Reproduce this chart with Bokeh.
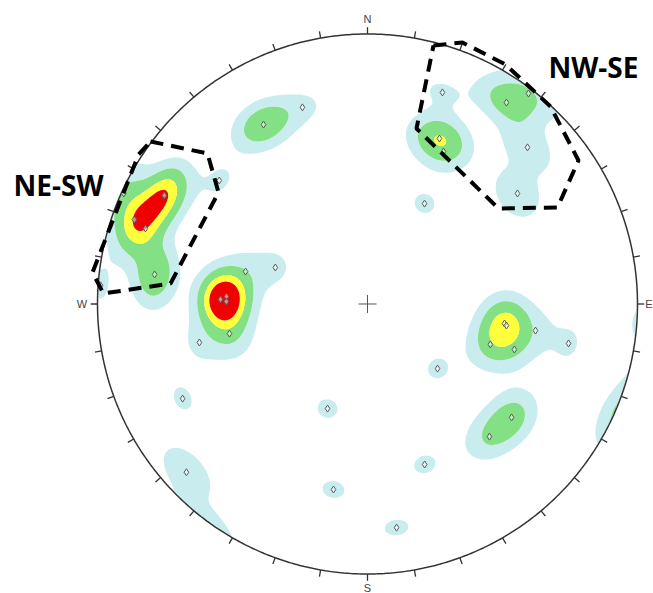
import numpy as np
from bokeh.plotting import figure
from bokeh.models import Range1d
from bokeh.embed import file_html
from bokeh.resources import INLINE
from bokeh.core.properties import value

# ---- data: poles (trend / plunge in degrees, lower hemisphere) and counts ----
trend = [298.1, 289.9, 288.8, 277.9, 309.8, 274.0, 294.4,
         284.9, 291.6, 271.8, 273.0, 271.0, 257.9, 257.1,
         19.5, 23.5, 26.5, 34.6, 45.6, 53.6, 29.6, 37.4,
         329.9, 341.7,
         98.1, 98.8, 99.0, 108.2, 107.2, 101.1, 128.2, 137.4,
         242.9, 200.9, 132.7, 160.4, 190.4, 172.6, 227.1]
plunge = [15.8, 9.0, 14.2, 21.5, 29.3, 1.0, 1.0,
          51.4, 59.9, 44.7, 46.6, 46.6, 46.6, 36.3,
          18.0, 33.6, 37.0, 10.3, 18.2, 31.6, 54.8, 2.1,
          24.2, 24.3,
          47.5, 46.8, 37.1, 50.4, 42.5, 25.1, 32.6, 33.7,
          24.1, 55.9, 61.1, 37.0, 30.8, 17.6, 9.3]
count = [6, 4, 3, 4, 1, 1, 2,
         1, 1, 4, 3, 3, 2, 1,
         1, 4, 1, 3, 2, 2, 1, 2,
         4, 1,
         3, 2, 1, 2, 1, 1, 3, 2,
         1, 1, 1, 1, 1, 1, 2]

contour_levels = [0.85, 2.3, 4.5, 6.5, 1000]
contour_colors = ["#c9ecee", "#84e084", "#ffff3c", "#f00000"]

set_names = ["NE-SW", "NW-SE"]
set_label_pos = [(-1.3111, 0.4389), (0.6704, 0.8796)]
# hand-drawn selection windows (net coordinates, unit radius)
set_window_x = [[-0.8037, -0.5926, -0.5519, -0.7296, -0.9778, -1.0185, -0.8481],
                [0.2444, 0.3519, 0.5111, 0.6778, 0.7815, 0.7037, 0.4852, 0.1815]]
set_window_y = [[0.6019, 0.5574, 0.4130, 0.0759, 0.0389, 0.1167, 0.5537],
                [0.9574, 0.9685, 0.8870, 0.7315, 0.5315, 0.3574, 0.3537, 0.6500]]

compass = ["N", "E", "S", "W"]

# ---- projection (Schmidt equal-area, lower hemisphere) ----
tr = np.radians(trend)
pl = np.radians(plunge)
w = np.array(count, dtype=float)
r_pts = np.sqrt(2) * np.sin((np.pi / 2 - pl) / 2)
mx = r_pts * np.sin(tr)
my = r_pts * np.cos(tr)

# ---- density on the sphere (Fisher kernel, axial) ----
g = np.linspace(-1.03, 1.03, 413)
GX, GY = np.meshgrid(g, g)
RR = np.hypot(GX, GY)
R = np.clip(RR, 0, 1.0)
th = 2 * np.arcsin(R / np.sqrt(2))
az = np.arctan2(GX, GY)
vx = np.sin(th) * np.sin(az)
vy = np.sin(th) * np.cos(az)
vz = -np.cos(th)
px = np.cos(pl) * np.sin(tr)
py = np.cos(pl) * np.cos(tr)
pz = -np.sin(pl)
dot = np.abs(vx[..., None] * px + vy[..., None] * py + vz[..., None] * pz)
kappa = 1.0 / np.radians(5.0) ** 2
Z = (w * np.exp(kappa * (dot - 1.0))).sum(axis=-1)
Z = np.where(RR > 1.0, 0.0, Z)

p = figure(width=653, height=593, x_range=Range1d(-1.35926, 1.05926),
           y_range=Range1d(-1.07222, 1.12407), output_backend="svg",
           toolbar_location=None, min_border=0, x_axis_type=None, y_axis_type=None)
p.outline_line_color = None
p.background_fill_color = "white"

p.contour(x=g, y=g, z=Z, levels=contour_levels, fill_color=contour_colors, line_color=None)

# primitive circle and ticks
ang = np.linspace(0, 2 * np.pi, 721)
p.line(np.cos(ang), np.sin(ang), line_color="#333333", line_width=1.5)
ta = np.radians(np.arange(0, 360, 10))
p.segment(np.sin(ta), np.cos(ta), 1.025 * np.sin(ta), 1.025 * np.cos(ta),
          line_color="#333333", line_width=1.3)

# centre cross
p.scatter([0], [0], marker="cross", size=18, line_color="#555555", line_width=1)

# poles
p.scatter(mx, my, marker="diamond", size=7, fill_color="white", fill_alpha=0.5,
          line_color="#5a5a5a", line_width=1)

# selection windows
for xs, ys in zip(set_window_x, set_window_y):
    p.line(xs + [xs[0]], ys + [ys[0]], line_color="black", line_width=4,
           line_dash="13 8")

# compass labels
p.text(x=[0, 1.0556, 0, -1.0574], y=[1.057, 0, -1.05, 0], text=compass,
       text_align=["center", "right", "center", "center"], text_baseline="middle",
       text_font=value("Liberation Sans"), text_font_size="11px", text_color="#444444")

# set labels
p.text(x=[q[0] for q in set_label_pos], y=[q[1] for q in set_label_pos], text=set_names,
       text_align="left", text_baseline="alphabetic", text_font=value("Open Sans"),
       text_font_style="bold", text_font_size="28px", text_color="black")

open("out.html", "w").write(file_html(p, INLINE))
